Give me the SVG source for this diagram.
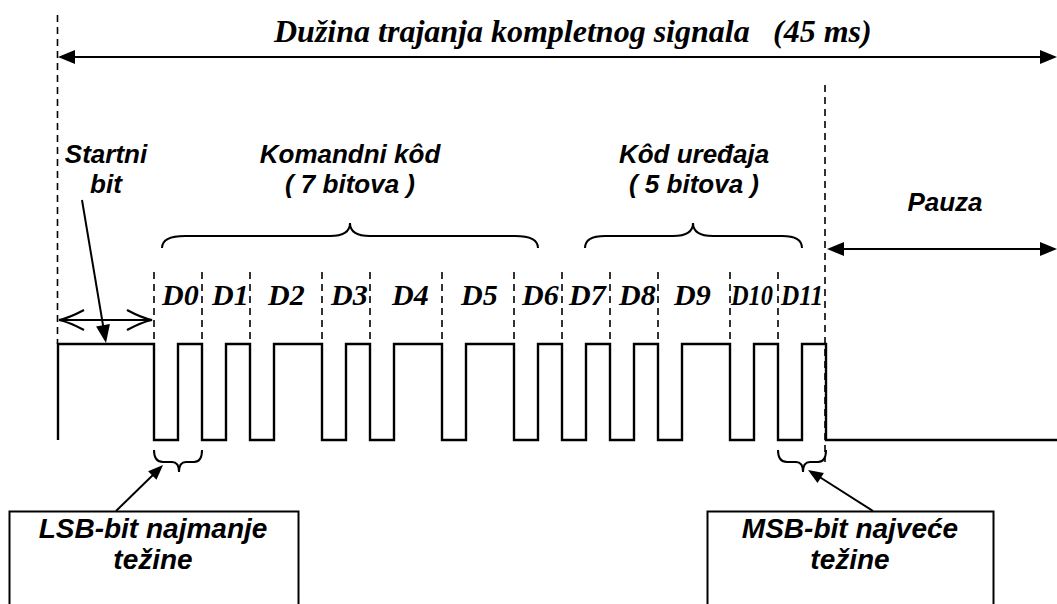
<svg xmlns="http://www.w3.org/2000/svg" width="1057" height="604" viewBox="0 0 1057 604">
<style>
.dash{stroke:#000;stroke-width:1.6;stroke-dasharray:7 5;fill:none}
.ln{stroke:#000;stroke-width:2;fill:none}
.wave{stroke:#000;stroke-width:2.4;fill:none;stroke-linejoin:miter}
.head{fill:#000;stroke:none}
.title{font-family:"Liberation Serif",serif;font-style:italic;font-weight:bold;font-size:32px}
.lbl{font-family:"Liberation Sans",Arial,sans-serif;font-style:italic;font-weight:bold;font-size:26px;text-anchor:middle}
.box{font-family:"Liberation Sans",Arial,sans-serif;font-style:italic;font-weight:bold;font-size:28px;text-anchor:middle}
.d{font-family:"Liberation Serif",serif;font-style:italic;font-weight:bold;font-size:30px}
.rect{fill:#fff;stroke:#000;stroke-width:2}
</style>
<rect width="1057" height="604" fill="#fff"/>
<g id="guides">
<line class="dash" x1="57.5" y1="15" x2="57.5" y2="344"/>
<line class="dash" x1="825" y1="85" x2="825" y2="462"/>
<line class="dash" x1="154" y1="272" x2="154" y2="344"/>
<line class="dash" x1="202" y1="272" x2="202" y2="344"/>
<line class="dash" x1="250" y1="272" x2="250" y2="344"/>
<line class="dash" x1="322" y1="272" x2="322" y2="344"/>
<line class="dash" x1="370" y1="272" x2="370" y2="344"/>
<line class="dash" x1="442" y1="272" x2="442" y2="344"/>
<line class="dash" x1="514" y1="272" x2="514" y2="344"/>
<line class="dash" x1="562" y1="272" x2="562" y2="344"/>
<line class="dash" x1="610" y1="272" x2="610" y2="344"/>
<line class="dash" x1="658" y1="272" x2="658" y2="344"/>
<line class="dash" x1="730" y1="272" x2="730" y2="344"/>
<line class="dash" x1="778" y1="272" x2="778" y2="344"/>
</g>
<g id="total-duration">
<line class="ln" x1="62" y1="57" x2="1052" y2="57"/>
<polygon class="head" points="58,57 75,50 75,64"/>
<polygon class="head" points="1057,57 1040,50 1040,64"/>
<text class="title" x="274" y="42">Dužina trajanja kompletnog signala<tspan x="773">(45 ms)</tspan></text>
</g>
<g id="pause">
<line class="ln" x1="832" y1="249" x2="1052" y2="249"/>
<polygon class="head" points="827,249 844,242 844,256"/>
<polygon class="head" points="1057,249 1040,242 1040,256"/>
<text class="lbl" x="945" y="211">Pauza</text>
</g>
<g id="start-bit">
<text class="lbl" x="106" y="163">Startni</text>
<text class="lbl" x="106" y="193">bit</text>
<line class="ln" x1="60" y1="320" x2="152" y2="320"/>
<path class="ln" d="M84,310 Q69,318 59,320 Q69,322 84,330" stroke-width="2.6"/>
<path class="ln" d="M127,310 Q142,318 152,320 Q142,322 127,330" stroke-width="2.6"/>
</g>
<g id="command-code">
<text class="lbl" x="350" y="163">Komandni kôd</text>
<text class="lbl" x="350" y="193">( 7 bitova )</text>
<path class="ln" d="M162,248 Q162,236 185,236 L330,236 Q350,236 350,223 Q350,236 370,236 L515,236 Q538,236 538,248"/>
</g>
<g id="device-code">
<text class="lbl" x="694" y="163">Kôd uređaja</text>
<text class="lbl" x="694" y="193">( 5 bitova )</text>
<path class="ln" d="M585,248 Q585,236 605,236 L673,236 Q693,236 693,223 Q693,236 713,236 L782,236 Q802,236 802,248"/>
</g>
<g id="bits">
<text class="d" x="162" y="305">D0</text>
<text class="d" x="212" y="305">D1</text>
<text class="d" x="268" y="305">D2</text>
<text class="d" x="331" y="305">D3</text>
<text class="d" x="392" y="305">D4</text>
<text class="d" x="461" y="305">D5</text>
<text class="d" x="522" y="305">D6</text>
<text class="d" x="569" y="305">D7</text>
<text class="d" x="619" y="305">D8</text>
<text class="d" x="674" y="305">D9</text>
<text class="d" x="731" y="305" textLength="42" lengthAdjust="spacingAndGlyphs">D10</text>
<text class="d" x="781" y="305" textLength="42" lengthAdjust="spacingAndGlyphs">D11</text>
</g>
<g id="waveform">
<path class="wave" d="M58,440 V344 H154 V440 H178 V344 H202 V440 H226 V344 H250 V440 H274 V344 H322 V440 H346 V344 H370 V440 H394 V344 H442 V440 H466 V344 H514 V440 H538 V344 H562 V440 H586 V344 H610 V440 H634 V344 H658 V440 H682 V344 H730 V440 H754 V344 H778 V440 H802 V344 H826 V440 H1057"/>
</g>
<g id="lsb">
<path class="ln" d="M154,450 Q154,462 163,462 L172,462 Q179,462 179,472 Q179,462 186,462 L194,462 Q202,462 202,450"/>
<rect class="rect" x="9.5" y="511.5" width="289" height="110"/>
<text class="box" x="153" y="538">LSB-bit najmanje</text>
<text class="box" x="153" y="569">težine</text>
</g>
<g id="msb">
<path class="ln" d="M778,450 Q778,462 787,462 L796,462 Q803,462 803,472 Q803,462 810,462 L818,462 Q826,462 826,450"/>
<rect class="rect" x="707.5" y="511.5" width="286" height="110"/>
<text class="box" x="850" y="538">MSB-bit najveće</text>
<text class="box" x="850" y="569">težine</text>
</g>
<g id="connectors">
<line class="ln" x1="82" y1="200" x2="103.5" y2="328"/>
<polygon class="head" points="106,343 109.9,324.1 96.1,326.5"/>
<line class="ln" x1="116" y1="511" x2="155" y2="473"/>
<polygon class="head" points="163,465 156.5,479.8 148.1,471.2"/>
<line class="ln" x1="873" y1="511" x2="818" y2="476"/>
<polygon class="head" points="808,470 823.9,472.9 817.5,483.1"/>
</g>
</svg>
